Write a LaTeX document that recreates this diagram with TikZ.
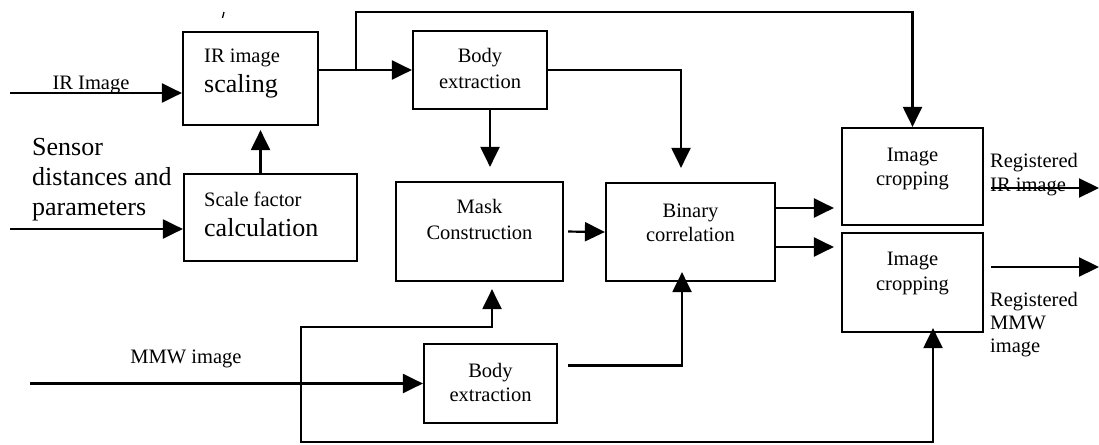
\documentclass[tikz,border=0pt]{standalone}
\usepackage{fontspec}
\setmainfont{Liberation Serif}
\usetikzlibrary{arrows.meta,calc}
\begin{document}
\begin{tikzpicture}[x=1pt,y=-1pt,
  blk/.style={draw, line width=2.2pt, inner sep=0pt},
  con/.style={line width=2.2pt},
  arr/.style={con, -{Triangle[length=20pt,width=19pt]}},
  sm/.style={font=\fontsize{20.5}{24}\selectfont, inner sep=0pt, anchor=base},
  smw/.style={sm, anchor=base west},
  lg/.style={font=\fontsize{26}{30}\selectfont, inner sep=0pt, anchor=base west}]
\useasboundingbox (0,0) rectangle (1099,444);

% boxes
\node[blk, minimum width=135pt, minimum height=93pt] (irs) at (250.5,78.5) {};
\node[blk, minimum width=173pt, minimum height=87pt] (scale) at (270.5,217.5) {};
\node[blk, minimum width=134pt, minimum height=78pt] (bt) at (480,70) {};
\node[blk, minimum width=167pt, minimum height=99pt] (mask) at (479.5,231.5) {};
\node[blk, minimum width=169pt, minimum height=98pt] (bin) at (690.5,232) {};
\node[blk, minimum width=141pt, minimum height=97pt] (crt) at (912.5,176.5) {};
\node[blk, minimum width=141pt, minimum height=99pt] (crb) at (912.5,282.5) {};
\node[blk, minimum width=133pt, minimum height=79pt] (bb) at (490.5,383.5) {};

% texts
\node[smw] (t1) at (204,63) {IR image};
\node[lg] (t2) at (204,92) {scaling};
\node[lg] (t3) at (32,155) {Sensor};
\node[lg] (t4) at (32,185) {distances and};
\node[lg] (t5) at (32,215) {parameters};
\node[smw] (t6) at (204,206) {Scale factor};
\node[lg] (t7) at (204,236) {calculation};
\node[sm] (t8) at (480,63) {Body};
\node[sm] (t9) at (480,88) {extraction};
\node[sm] (t10) at (479.5,213) {Mask};
\node[sm] (t11) at (479.5,239) {Construction};
\node[sm] (t12) at (690.5,217) {Binary};
\node[sm] (t13) at (690.5,241) {correlation};
\node[sm] (t14) at (912.5,161) {Image};
\node[sm] (t15) at (912.5,185) {cropping};
\node[sm] (t16) at (912.5,265) {Image};
\node[sm] (t17) at (912.5,290) {cropping};
\node[sm] (t18) at (490.5,377) {Body};
\node[sm] (t19) at (490.5,401) {extraction};
\node[smw] (t20) at (990,167) {Registered};
\node[smw] (t21) at (990,191) {IR image};
\node[smw] (t22) at (990,306) {Registered};
\node[smw] (t23) at (990,329) {MMW};
\node[smw] (t24) at (990,352) {image};
\node[sm] (t25) at (91,89) {IR Image};
\node[sm] (t26) at (186,363) {MMW image};

% helper coordinates
\coordinate (irin) at (10,93);
\coordinate (sin) at (10,229);
\coordinate (min) at (30,383.5);
\coordinate (xb) at (356,0);
\coordinate (topy) at (0,12);
\coordinate (xl) at (301,0);
\coordinate (lt) at (0,327);
\coordinate (lb) at (0,442);
\coordinate (o1) at (0,188);
\coordinate (o1e) at (1099,188);
\coordinate (o2) at (0,267);
\coordinate (o2e) at (1099,267);

% connectors
\draw[arr] (irin) -- (irin -| irs.west);
\draw[arr] (sin) -- (sin -| scale.west);
\draw[arr, shorten >=4pt] ([xshift=10pt]irs.south |- scale.north) -- ([xshift=10pt]irs.south);
\draw[arr] (irs.east |- bt.west) -- (bt.west);
\draw[arr] (xb |- bt.west) |- (crt.north |- topy) -- (crt.north);
\draw[arr, shorten >=14pt] ([xshift=10pt]bt.south) -- ([xshift=10pt]bt.south |- mask.north);
\draw[arr, shorten >=14pt] (bt.east) -| ([xshift=-9.5pt]bin.north);
\draw[arr, shorten <=4pt] (mask.east) -- (bin.west);
\draw[arr, shorten >=7pt] ([yshift=24pt]bin.east) -- ([yshift=24pt]bin.east -| crt.west);
\draw[arr, shorten >=7pt] ([yshift=-15pt]bin.east) -- ([yshift=-15pt]bin.east -| crb.west);
\draw[arr, shorten <=7pt] (crt.east |- o1) -- (o1e);
\draw[arr, shorten <=7pt] (crb.east |- o2) -- (o2e);
\draw[arr] (min) -- (bb.west);
\draw[arr, shorten <=10pt, shorten >=-10pt] ([yshift=18pt]bb.east) -| ([xshift=-8.5pt]bin.south);
\draw[arr, shorten >=7pt] (xl |- min) |- ([xshift=12.5pt]mask.south |- lt) -- ([xshift=12.5pt]mask.south);
\draw[arr, shorten >=-5pt] (xl |- min) |- ([xshift=20.5pt]crb.south |- lb) -- ([xshift=20.5pt]crb.south);

% stray tick
\draw[line width=1.3pt] (222.5,18) -- (224,12);
\end{tikzpicture}
\end{document}
